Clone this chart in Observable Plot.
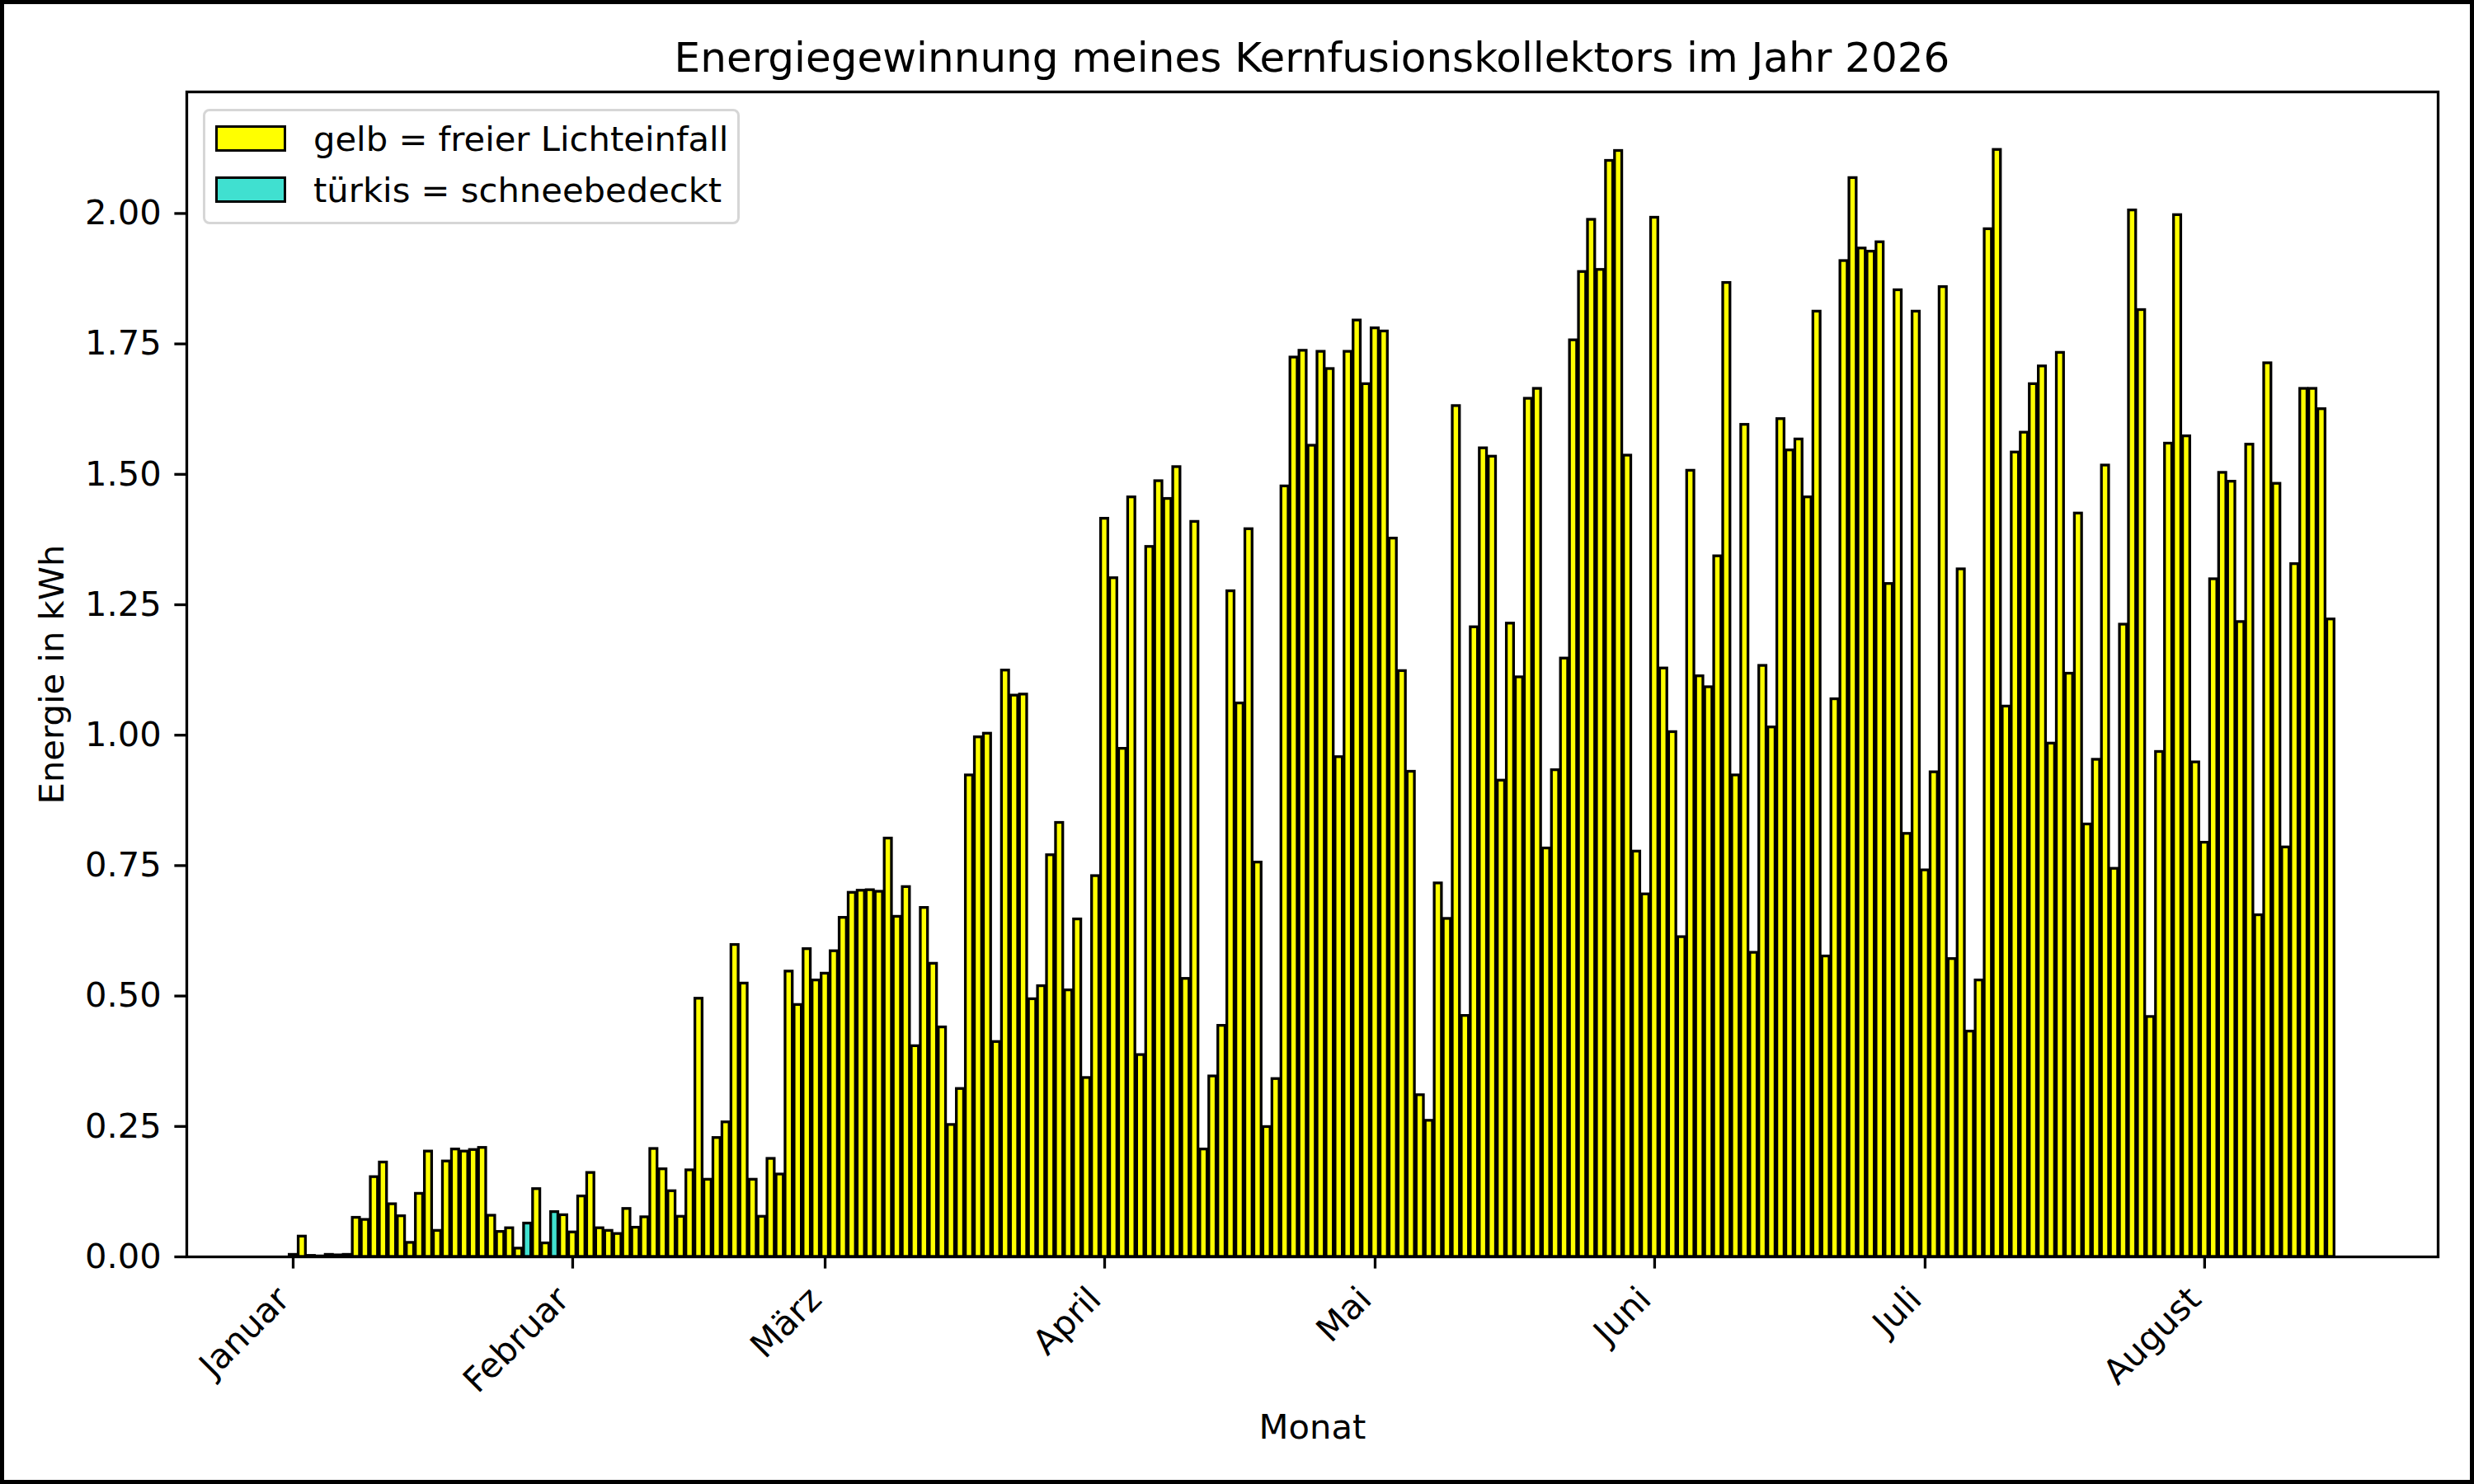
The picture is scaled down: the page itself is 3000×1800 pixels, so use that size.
<!DOCTYPE html>
<html>
<head>
<meta charset="utf-8">
<script src="https://cdn.jsdelivr.net/npm/d3@7"></script>
<script src="https://cdn.jsdelivr.net/npm/@observablehq/plot@0.6"></script>
<style>
  html, body { margin: 0; padding: 0; background: #fff; }
  #page { position: relative; width: 3000px; height: 1800px; overflow: hidden; background: #fff;
          font-family: "DejaVu Sans", sans-serif; color: #000; }
  #title { position: relative; height: 100px; }
  #title span { position: absolute; left: 226px; width: 2730px; top: 44.7px; height: 50px; line-height: 50px;
                font-size: 50px; text-align: center; white-space: nowrap; }
  #chart svg { display: block; }
  #legend { position: absolute; left: 246px; top: 132px; width: 651px; height: 140px; box-sizing: border-box;
            border: 3.5px solid #d6d6d6; border-radius: 8px; background: rgba(255,255,255,0.8); }
  .sw { position: absolute; left: 261px; width: 86px; height: 32px; box-sizing: border-box; border: 3.3px solid #000; }
  .lt { position: absolute; left: 380px; font-size: 41.7px; line-height: 41.7px; white-space: nowrap; }
  #border { position: absolute; left: 0; top: 0; width: 3000px; height: 1800px; box-sizing: border-box;
            border: 5px solid #000; pointer-events: none; }
</style>
</head>
<body>
<div id="page">
  <div id="title"><span>Energiegewinnung meines Kernfusionskollektors im Jahr 2026</span></div>
  <div id="chart"></div>
  <div id="legend"></div>
  <div class="sw" style="top:152px;background:#ffff00;"></div>
  <div class="lt" style="top:147.7px;">gelb = freier Lichteinfall</div>
  <div class="sw" style="top:214px;background:#40e0d0;"></div>
  <div class="lt" style="top:209.7px;">türkis = schneebedeckt</div>
  <div id="border"></div>
</div>
<script>
// ---- Daten (kWh pro Tag) ----
const monthNames = ["Januar", "Februar", "März", "April", "Mai", "Juni", "Juli", "August"];
const yTicks = [0, 0.25, 0.5, 0.75, 1.0, 1.25, 1.5, 1.75, 2.0];

const januar = [0.004, 0.039, 0.002, 0.001, 0.004, 0.003, 0.004, 0.075, 0.071, 0.153,
  0.181, 0.101, 0.078, 0.027, 0.121, 0.202, 0.050, 0.183, 0.206, 0.202,
  0.205, 0.209, 0.079, 0.048, 0.055, 0.016, 0.064, 0.130, 0.026, 0.086, 0.080];
const februar = [0.047, 0.116, 0.161, 0.055, 0.050, 0.044, 0.092, 0.056, 0.076, 0.207,
  0.168, 0.126, 0.077, 0.166, 0.495, 0.148, 0.228, 0.258, 0.598, 0.524,
  0.148, 0.077, 0.188, 0.158, 0.547, 0.483, 0.590, 0.530];
const maerz = [0.543, 0.586, 0.650, 0.698, 0.702, 0.703, 0.700, 0.802, 0.652, 0.709,
  0.404, 0.669, 0.562, 0.440, 0.253, 0.322, 0.923, 0.996, 1.003, 0.412,
  1.124, 1.076, 1.078, 0.494, 0.519, 0.770, 0.832, 0.511, 0.647, 0.343, 0.730];
const april = [1.415, 1.301, 0.974, 1.456, 0.387, 1.361, 1.487, 1.453, 1.514, 0.533,
  1.409, 0.206, 0.346, 0.443, 1.276, 1.061, 1.395, 0.756, 0.249, 0.341,
  1.477, 1.724, 1.737, 1.555, 1.735, 1.702, 0.958, 1.735, 1.795, 1.673];
const mai = [1.780, 1.774, 1.377, 1.123, 0.930, 0.310, 0.261, 0.716, 0.648, 1.631,
  0.462, 1.207, 1.550, 1.534, 0.913, 1.214, 1.111, 1.645, 1.664, 0.783,
  0.933, 1.147, 1.757, 1.888, 1.988, 1.892, 2.101, 2.120, 1.536, 0.777, 0.695];
const juni = [1.992, 1.128, 1.006, 0.613, 1.507, 1.113, 1.092, 1.343, 1.867, 0.923,
  1.595, 0.583, 1.133, 1.015, 1.606, 1.546, 1.567, 1.456, 1.812, 0.576,
  1.069, 1.909, 2.068, 1.933, 1.927, 1.945, 1.290, 1.853, 0.811, 1.812];
const juli = [0.741, 0.929, 1.859, 0.571, 1.318, 0.432, 0.530, 1.970, 2.122, 1.055,
  1.542, 1.580, 1.673, 1.707, 0.984, 1.733, 1.118, 1.425, 0.829, 0.953,
  1.517, 0.744, 1.212, 2.006, 1.815, 0.460, 0.968, 1.559, 1.997, 1.573, 0.948];
const august = [0.794, 1.299, 1.503, 1.486, 1.217, 1.557, 0.655, 1.713, 1.482, 0.785,
  1.328, 1.664, 1.664, 1.625, 1.222];

// Tage mit Schneebedeckung (türkis)
const schneeTage = ["2026-01-27", "2026-01-30"];

// ---- Aufbau ----
const DAY = 86400000;
const months = [januar, februar, maerz, april, mai, juni, juli, august];
const data = [];
months.forEach((vals, m) => {
  vals.forEach((v, d) => {
    const t = Date.UTC(2026, m, d + 1);
    const iso = new Date(t).toISOString().slice(0, 10);
    data.push({
      x1: new Date(t - 0.4 * DAY),
      x2: new Date(t + 0.4 * DAY),
      v,
      kat: schneeTage.includes(iso) ? "schnee" : "frei"
    });
  });
});
const monthStarts = monthNames.map((_, m) => new Date(Date.UTC(2026, m, 1)));
const t0 = Date.UTC(2026, 0, 1);

const chart = Plot.plot({
  width: 3000,
  height: 1700,
  marginTop: 11,
  marginBottom: 276,
  marginLeft: 226,
  marginRight: 44,
  style: { fontFamily: "DejaVu Sans", fontSize: "41.7px", color: "#000", background: "transparent" },
  x: { type: "utc", domain: [new Date(t0 - 11.8 * DAY), new Date(t0 + 237.9 * DAY)] },
  y: { domain: [0, 2.233] },
  color: { domain: ["frei", "schnee"], range: ["#ffff00", "#40e0d0"] },
  marks: [
    Plot.rectY(data, { x1: "x1", x2: "x2", y: "v", fill: "kat", stroke: "#000", strokeWidth: 3.3 }),
    Plot.frame({ stroke: "#000", strokeWidth: 3.3 }),
    Plot.axisY({ ticks: yTicks, tickFormat: d3.format(".2f"), tickSize: 14.6, tickPadding: 16,
                 strokeWidth: 3.3, label: null }),
    Plot.axisX({ ticks: monthStarts, tickSize: 14.6, strokeWidth: 3.3, tickFormat: () => "", label: null }),
    Plot.text(monthStarts, { x: d => d, text: (d, i) => monthNames[i], frameAnchor: "bottom",
                             rotate: -45, textAnchor: "end", lineAnchor: "top", dx: -23, dy: 33 }),
    Plot.text(["Monat"], { frameAnchor: "bottom", dy: 207, textAnchor: "middle", lineAnchor: "middle", text: d => d }),
    Plot.text(["Energie in kWh"], { frameAnchor: "left", dx: -163, rotate: -90, textAnchor: "middle",
                                    lineAnchor: "middle", text: d => d })
  ]
});
document.getElementById("chart").appendChild(chart);
</script>
</body>
</html>
